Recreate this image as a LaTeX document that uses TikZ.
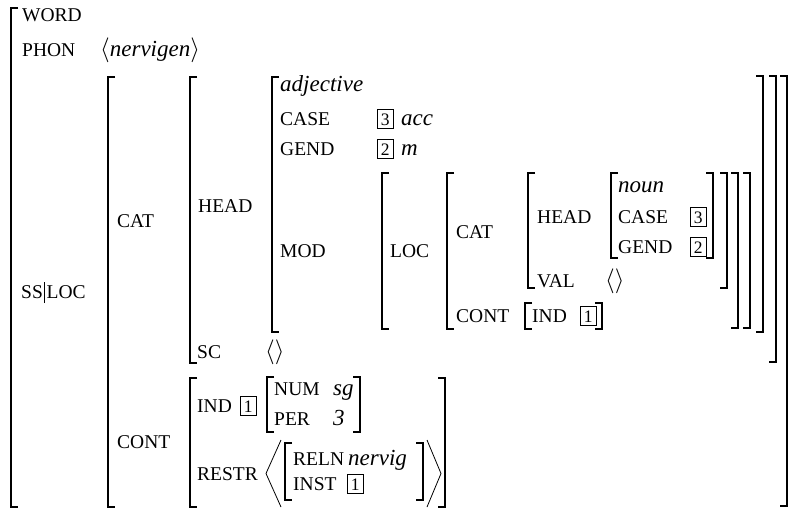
\documentclass[tikz,border=0pt]{standalone}
\usepackage{fontspec}
\setmainfont{Liberation Serif}
\tikzset{
  ft/.style={font=\fontsize{19.5}{21}\selectfont, anchor=base west, inner sep=0pt},
  vl/.style={font=\fontsize{23}{25}\selectfont\itshape, anchor=base west, inner sep=0pt},
  tg/.style={draw, line width=0.6pt, font=\fontsize{17.5}{18}\selectfont, anchor=base west,
    inner xsep=2.5pt, inner ysep=2.5pt, text height=13pt, text depth=0.5pt, minimum width=16pt},
  brk/.style={line width=1.4pt},
  ang/.style={line width=0.8pt, line join=miter},
}
\newcommand{\AVMl}[3]{\draw[brk] (#1+7,#2) -- (#1,#2) -- (#1,#3) -- (#1+7,#3);}
\newcommand{\AVMr}[3]{\draw[brk] (#1-7,#2) -- (#1,#2) -- (#1,#3) -- (#1-7,#3);}
\begin{document}
\begin{tikzpicture}[x=1pt,y=-1pt]
\useasboundingbox (0,0) rectangle (791,508);
% brackets
\AVMl{11}{8}{507}
\AVMl{108}{77}{507}
\AVMl{190}{77}{363}
\AVMl{272}{77}{332}
\AVMl{382}{173}{329}
\AVMl{447}{173}{329}
\AVMl{528}{173}{288}
\AVMl{611}{173}{258}
\AVMl{525}{303}{329}
\AVMl{190}{378}{507}
\AVMl{267}{377}{432}
\AVMl{285}{443}{500}
\AVMr{713}{173}{258}
\AVMr{727}{173}{288}
\AVMr{738}{173}{328}
\AVMr{750}{173}{328}
\AVMr{763}{76}{332}
\AVMr{776}{76}{362}
\AVMr{787}{76}{506}
\AVMr{602}{303}{329}
\AVMr{445}{378}{507}
\AVMr{360}{377}{432}
\AVMr{423}{443}{500}
% big angle brackets
\draw[ang] (281,440) -- (266,473.5) -- (281,507);
\draw[ang] (427,440) -- (441,473.5) -- (427,507);
% texts
\node[ft] (word) at (22,22) {WORD};
\node[ft] (phon) at (22,57) {PHON};
\node[vl] (phonv) at (100,57) {$\langle$nervigen$\rangle$};
\node[ft] (ssloc) at (21,298) {SS\kern1.5pt\rule[-5pt]{0.8pt}{21pt}\kern1.5pt LOC};
\node[ft] (cat) at (117,227) {CAT};
\node[ft] (head) at (198,212) {HEAD};
\node[vl] (adj) at (280,92) {adjective};
\node[ft] (case) at (280,125) {CASE};
\node[tg] (t3a) at (377,125) {3};
\node[vl] (acc) at (401,125) {acc};
\node[ft] (gend) at (280,155) {GEND};
\node[tg] (t2a) at (377,155) {2};
\node[vl] (m) at (401,155) {m};
\node[ft] (mod) at (280,257) {MOD};
\node[ft] (loc) at (390,257) {LOC};
\node[ft] (cat2) at (456,238) {CAT};
\node[ft] (head2) at (537,223) {HEAD};
\node[vl] (noun) at (618,192) {noun};
\node[ft] (case2) at (618,223) {CASE};
\node[tg] (t3b) at (690,223) {3};
\node[ft] (gend2) at (618,253) {GEND};
\node[tg] (t2b) at (690,253) {2};
\node[ft] (val) at (537,287) {VAL};
\node[vl] (valv) at (605,287) {$\langle\rangle$};
\node[ft] (cont2) at (456,322) {CONT};
\node[ft] (ind2) at (532,322) {IND};
\node[tg] (t1a) at (580,322) {1};
\node[ft] (sc) at (197,358) {SC};
\node[vl] (scv) at (265,358) {$\langle\rangle$};
\node[ft] (cont) at (117,448) {CONT};
\node[ft] (ind) at (197,412) {IND};
\node[tg] (t1b) at (240,412) {1};
\node[ft] (num) at (274,395) {NUM};
\node[vl] (sg) at (333,395) {sg};
\node[ft] (per) at (274,425) {PER};
\node[vl] (three) at (333,425) {3};
\node[ft] (restr) at (197,480) {RESTR};
\node[ft] (reln) at (293,465) {RELN};
\node[vl] (nervig) at (348,465) {nervig};
\node[ft] (inst) at (293,490) {INST};
\node[tg] (t1c) at (347,490) {1};
\end{tikzpicture}
\end{document}
